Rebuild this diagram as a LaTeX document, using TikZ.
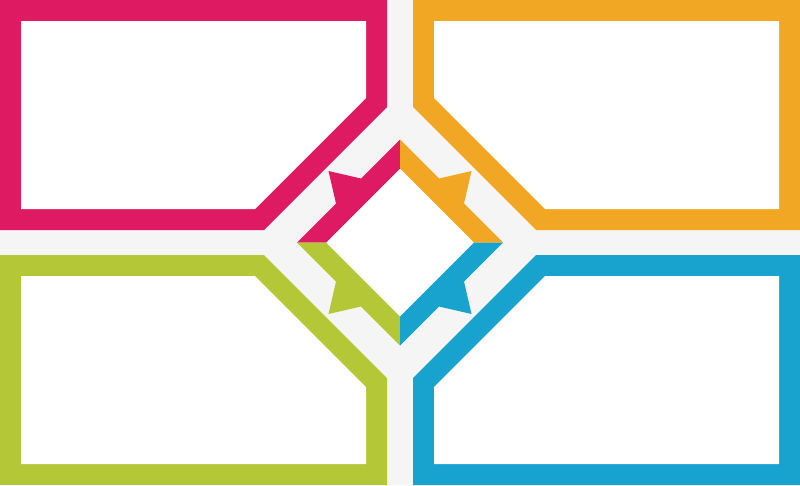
\documentclass[tikz,border=0pt]{standalone}
\usetikzlibrary{calc}
\definecolor{pinkc}{HTML}{DE1A62}
\definecolor{orangec}{HTML}{F1A723}
\definecolor{greenc}{HTML}{B4C736}
\definecolor{bluec}{HTML}{18A3CE}
\definecolor{bgc}{HTML}{F5F5F5}
\tikzset{
  frameshape/.style={fill=#1},
  holeshape/.style={fill=white},
  ringpart/.style={fill=#1}
}
\begin{document}
\begin{tikzpicture}[x=1pt,y=-1pt]
\useasboundingbox (0,0) rectangle (800,485);
\fill[bgc] (0,0) rectangle (800,485);
\begin{scope}[shift={(400,242.5)}]
  % central white diamond
  \fill[white] (0,-74) -- (74,0) -- (0,74) -- (-74,0) -- cycle;
  \foreach \sx/\sy/\col in {1/1/pinkc, -1/1/orangec, 1/-1/greenc, -1/-1/bluec}{
    \begin{scope}[xscale=\sx,yscale=\sy]
      % outer frame
      \fill[frameshape=\col] (-400,-242.5) -- (-13,-242.5) -- (-13,-135.5) -- (-136,-12.5) -- (-400,-12.5) -- cycle;
      % white inside
      \fill[holeshape] (-379,-221.5) -- (-34,-221.5) -- (-34,-144.5) -- (-145,-33.5) -- (-379,-33.5) -- cycle;
      % ring segment with star point
      \fill[ringpart=\col] (-103,0) -- (-64,-39) -- (-71.5,-71.5) -- (-39,-64) -- (0,-103) -- (0,-74) -- (-74,0) -- cycle;
    \end{scope}
  }
\end{scope}
\end{tikzpicture}
\end{document}
